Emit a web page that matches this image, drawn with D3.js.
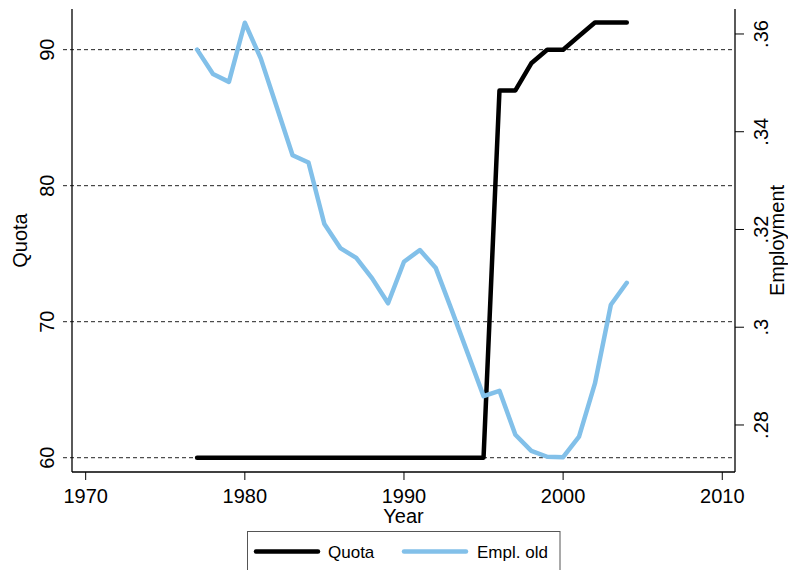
<!DOCTYPE html>
<html>
<head>
<meta charset="utf-8">
<script src="https://cdn.jsdelivr.net/npm/d3@7"></script>
<style>
  body { margin: 0; background: #fff; }
  text { font-family: "Liberation Sans", Arial, sans-serif; fill: #000; }
</style>
</head>
<body>
<svg id="chart" width="788" height="570"></svg>
<script>
const years = [1977,1978,1979,1980,1981,1982,1983,1984,1985,1986,1987,1988,1989,1990,1991,1992,1993,1994,1995,1996,1997,1998,1999,2000,2001,2002,2003,2004];
const quota = [60,60,60,60,60,60,60,60,60,60,60,60,60,60,60,60,60,60,60,87,87,89,90,90,91,92,92,92];
const emplOld = [.3568,.3518,.3502,.3623,.3550,.3451,.3352,.3337,.3211,.3162,.3142,.3100,.3049,.3134,.3158,.3121,.3035,.2947,.2859,.2870,.2780,.2747,.2735,.2734,.2776,.2885,.3046,.3091];
const xTicks = [1970,1980,1990,2000,2010];
const leftTicks = [60,70,80,90];
const rightTicks = [.28,.30,.32,.34,.36];
const rightTickLabels = [".28",".3",".32",".34",".36"];
const seriesNames = ["Quota","Empl. old"];
const seriesColors = ["#000000","rgb(130,192,233)"];

const svg = d3.select("#chart");
const L = 72, R = 735, T = 9, B = 472;

const x = d3.scaleLinear().domain([1969.14, 2010.8]).range([L, R]);
const yL = d3.scaleLinear().domain([58.95, 92.99]).range([B, T]);
const yR = d3.scaleLinear().domain([0.27038, 0.36511]).range([B, T]);

// gridlines (dashed, also forming left ticks)
svg.append("g").selectAll("line").data(leftTicks).join("line")
  .attr("x1", L - 9).attr("x2", R)
  .attr("y1", d => yL(d)).attr("y2", d => yL(d))
  .attr("stroke", "#222").attr("stroke-width", 1)
  .attr("stroke-dasharray", "4,3");

// axes lines
const axisG = svg.append("g").attr("stroke", "#000").attr("stroke-width", 1.3);
axisG.append("line").attr("x1", L).attr("x2", L).attr("y1", T).attr("y2", B);
axisG.append("line").attr("x1", R).attr("x2", R).attr("y1", T).attr("y2", B);
axisG.append("line").attr("x1", L).attr("x2", R).attr("y1", B).attr("y2", B);

// x axis ticks
const xa = svg.append("g");
xa.selectAll("line").data(xTicks).join("line")
  .attr("x1", d => x(d)).attr("x2", d => x(d))
  .attr("y1", B).attr("y2", B + 8)
  .attr("stroke", "#000").attr("stroke-width", 1);
xa.selectAll("text").data(xTicks).join("text")
  .attr("x", d => x(d)).attr("y", B + 31)
  .attr("text-anchor", "middle").attr("font-size", 20)
  .text(d => d);

// left tick labels
svg.append("g").selectAll("text").data(leftTicks).join("text")
  .attr("transform", d => `translate(54,${yL(d)}) rotate(-90)`)
  .attr("text-anchor", "middle").attr("font-size", 20)
  .text(d => d);

// right ticks
const ra = svg.append("g");
ra.selectAll("line").data(rightTicks).join("line")
  .attr("x1", R).attr("x2", R + 9)
  .attr("y1", d => yR(d)).attr("y2", d => yR(d))
  .attr("stroke", "#000").attr("stroke-width", 1);
ra.selectAll("text").data(rightTicks).join("text")
  .attr("transform", d => `translate(768,${yR(d)}) rotate(-90)`)
  .attr("text-anchor", "middle").attr("font-size", 20)
  .text((d, i) => rightTickLabels[i]);

// axis titles
svg.append("text").attr("transform", `translate(27,${(T + B) / 2}) rotate(-90)`)
  .attr("text-anchor", "middle").attr("font-size", 20).text("Quota");
svg.append("text").attr("transform", `translate(784,${(T + B) / 2}) rotate(-90)`)
  .attr("text-anchor", "middle").attr("font-size", 20).text("Emplovment".replace("v", "y"));
svg.append("text").attr("x", (L + R) / 2).attr("y", 523)
  .attr("text-anchor", "middle").attr("font-size", 20).text("Year");

// series
const lineQ = d3.line().x((d, i) => x(years[i])).y(d => yL(d));
const lineE = d3.line().x((d, i) => x(years[i])).y(d => yR(d));
svg.append("path").datum(quota).attr("d", lineQ)
  .attr("fill", "none").attr("stroke", seriesColors[0]).attr("stroke-width", 4.5)
  .attr("stroke-linejoin", "round").attr("stroke-linecap", "round");
svg.append("path").datum(emplOld).attr("d", lineE)
  .attr("fill", "none").attr("stroke", seriesColors[1]).attr("stroke-width", 4.5)
  .attr("stroke-linejoin", "round").attr("stroke-linecap", "round");

// legend
const lg = svg.append("g");
lg.append("rect").attr("x", 247.5).attr("y", 531.5).attr("width", 312.5).attr("height", 50)
  .attr("fill", "#fff").attr("stroke", "#555").attr("stroke-width", 1);
const legX = [[256, 318, 328], [404, 466, 477]];
seriesNames.forEach((n, i) => {
  lg.append("line").attr("x1", legX[i][0]).attr("x2", legX[i][1])
    .attr("y1", 551.5).attr("y2", 551.5)
    .attr("stroke", seriesColors[i]).attr("stroke-width", 4.5).attr("stroke-linecap", "round");
  lg.append("text").attr("x", legX[i][2]).attr("y", 557.5).attr("font-size", 17).text(n);
});
</script>
</body>
</html>
